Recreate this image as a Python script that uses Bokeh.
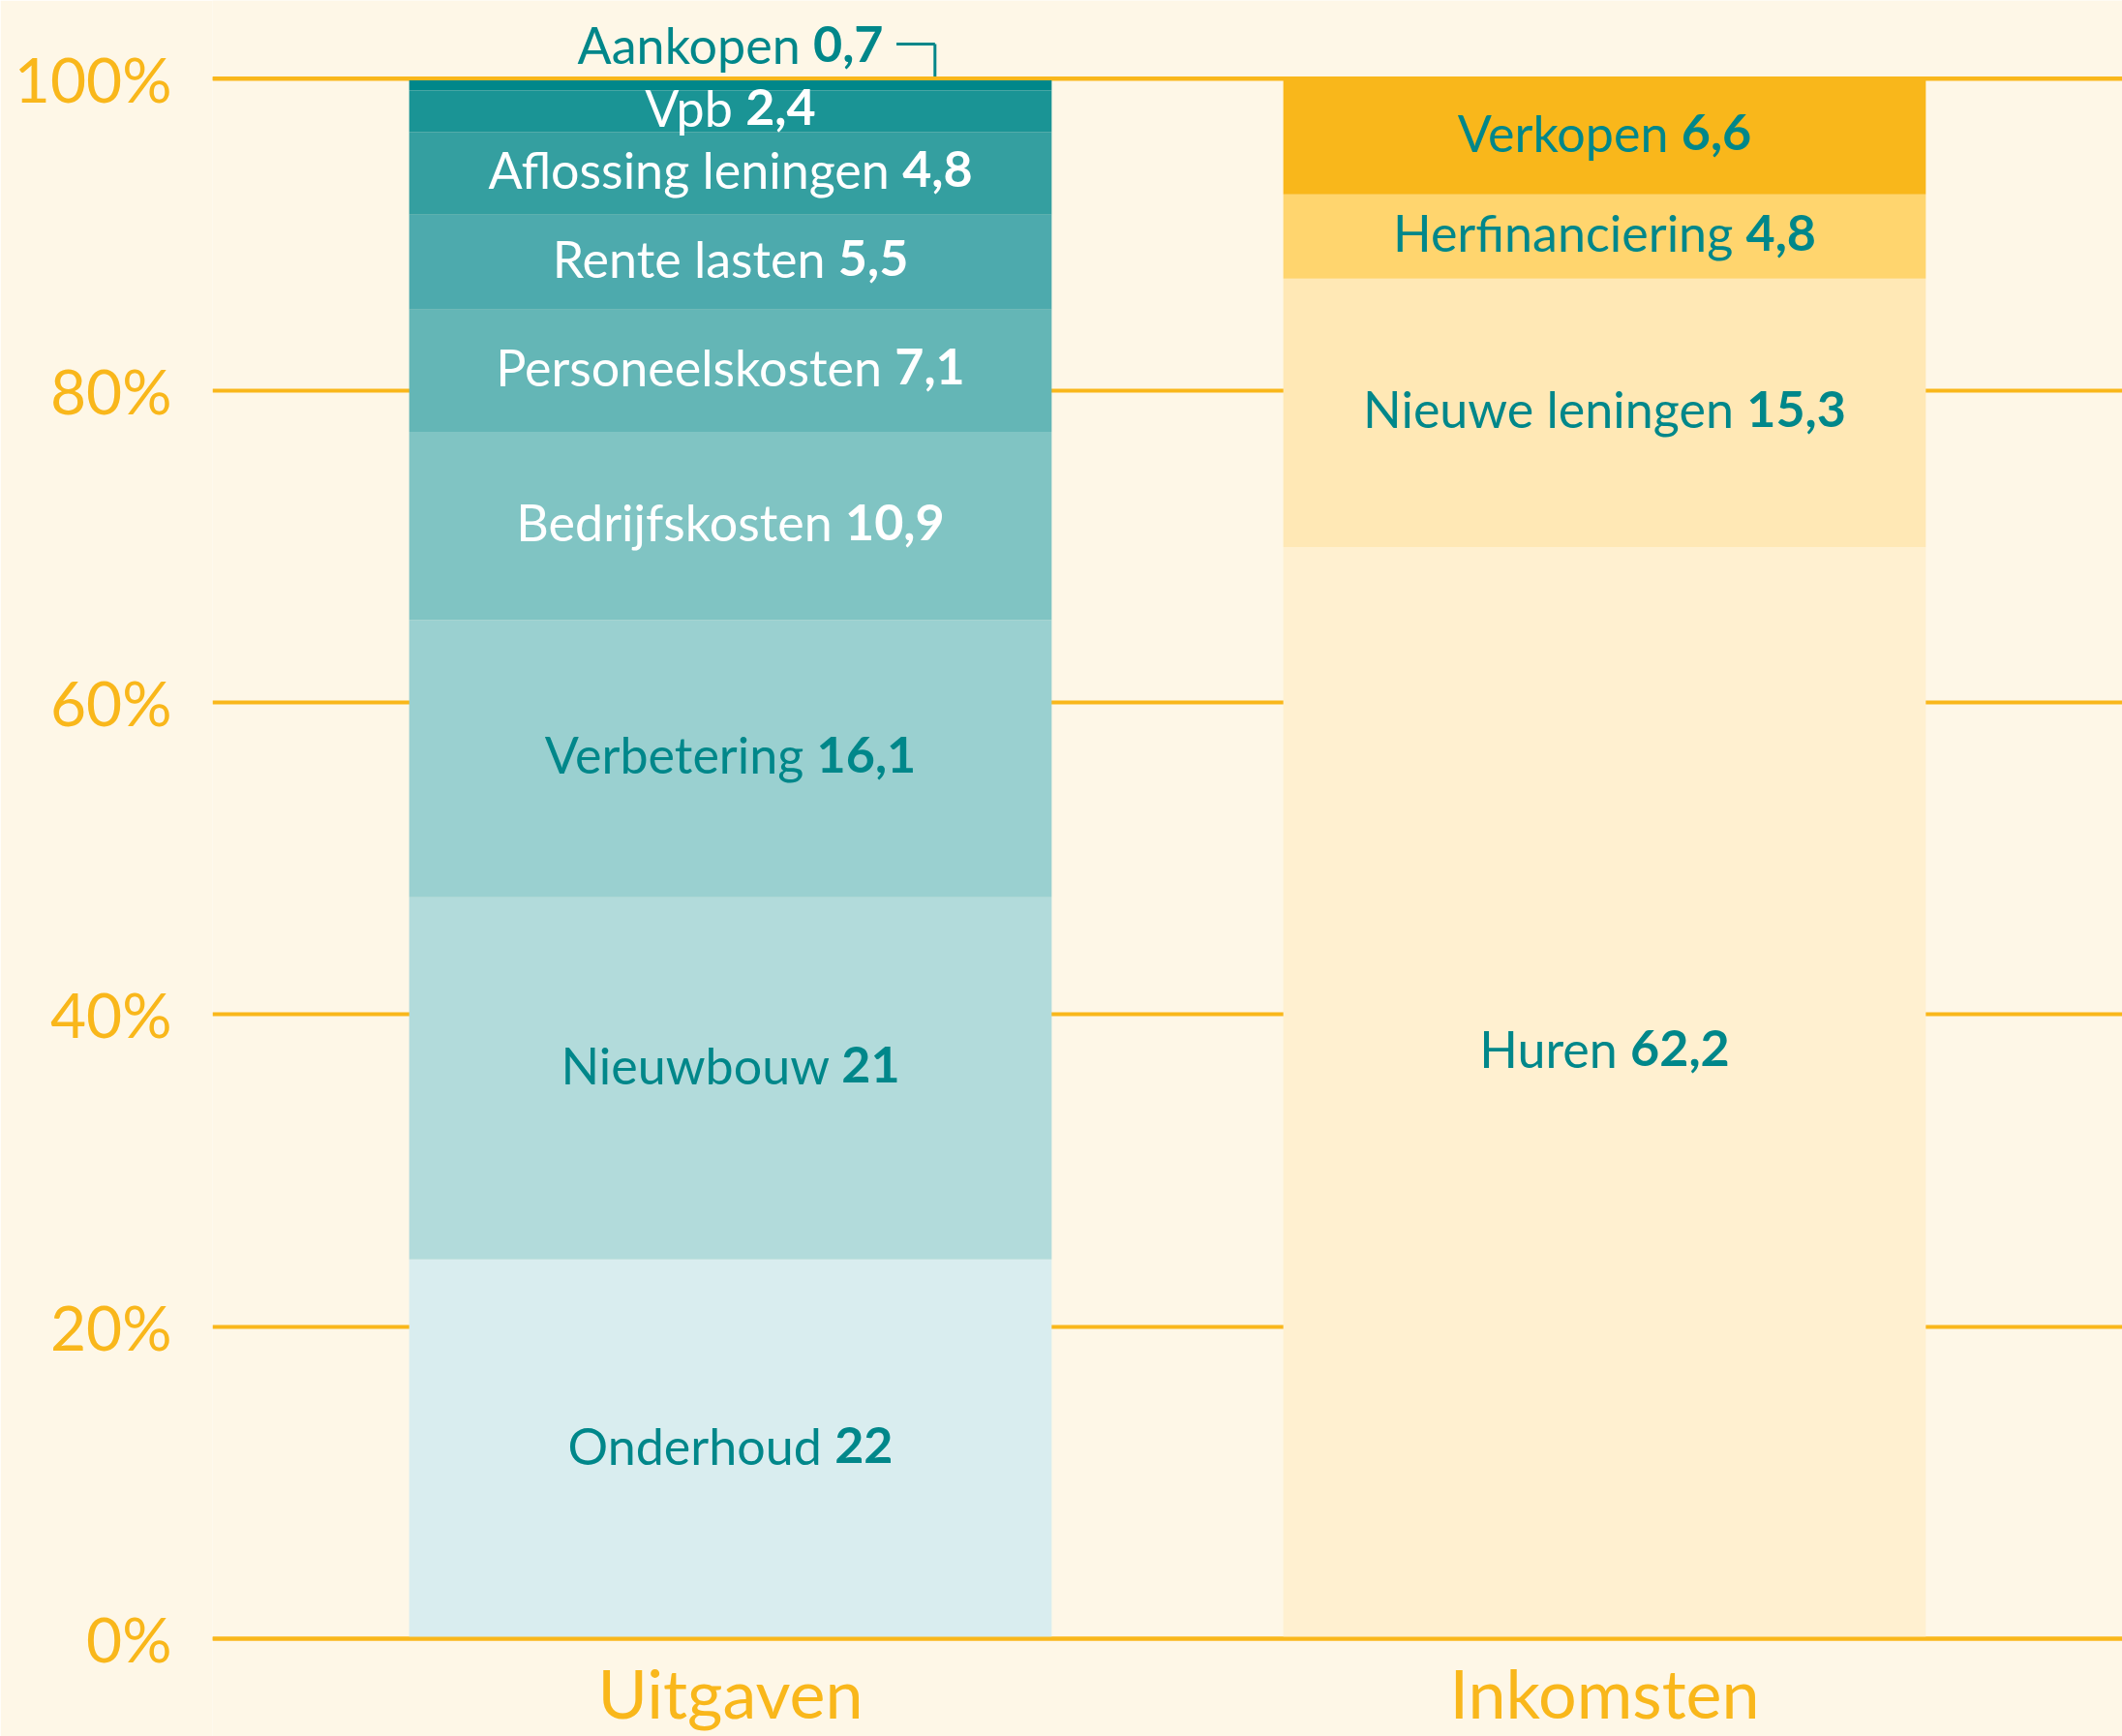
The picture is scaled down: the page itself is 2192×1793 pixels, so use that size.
import glob, os, subprocess
from bokeh.plotting import figure
from bokeh.models import FactorRange, Range1d, FixedTicker, ColumnDataSource, Span
from bokeh.transform import dodge
from bokeh.core.properties import value
from bokeh.embed import file_html
from bokeh.resources import INLINE

# ---------------- data ----------------
categories = ["Uitgaven", "Inkomsten"]

uitgaven_labels = ["Onderhoud", "Nieuwbouw", "Verbetering", "Bedrijfskosten",
                   "Personeelskosten", "Rente lasten", "Aflossing leningen", "Vpb", "Aankopen"]
uitgaven_values = [22, 21, 16.1, 10.9, 7.1, 5.5, 4.8, 2.4, 0.7]

inkomsten_labels = ["Huren", "Nieuwe leningen", "Herfinanciering", "Verkopen"]
inkomsten_values = [62.2, 15.3, 4.8, 6.6]

y_ticks = [0, 20, 40, 60, 80, 100]
y_tick_labels = ["0%", "20%", "40%", "60%", "80%", "100%"]

# ---------------- style ----------------
BG = "#FEF7E7"
GOLD = "#F9B71B"
TEAL = "#00878A"
WHITE = "#FFFFFF"
uit_colors = ["#D9EDEF", "#B2DBDB", "#9AD0D0", "#80C4C3", "#64B6B6",
              "#4DAAAD", "#349FA0", "#1A9495", "#00878A"]
uit_text_colors = [TEAL, TEAL, TEAL, WHITE, WHITE, WHITE, WHITE, WHITE, TEAL]
ink_colors = ["#FFF0D0", "#FFE8B5", "#FFD56E", "#F9B71B"]
ink_text_colors = [TEAL, TEAL, TEAL, TEAL]
FONT = "Lato"
AXIS_FONT = "Lato"
LABEL_PX = 52
YAXIS_PX = 64
XAXIS_PX = 70
BAR_W = 0.735
LABEL_DY = -4                     # general vertical nudge of segment labels (px)
LABEL_NUDGE = {"Huren": -42, "Nieuwbouw": -10}   # extra label nudges (px)


def find_font(bold):
    name = "Lato-Bold.ttf" if bold else "Lato-Regular.ttf"
    for root in ["/usr/share/fonts", "/usr/local/share/fonts", os.path.expanduser("~/.fonts"),
                 os.path.expanduser("~/.local/share/fonts")]:
        hits = glob.glob(os.path.join(root, "**", name), recursive=True)
        if hits:
            return hits[0]
    try:
        out = subprocess.run(["fc-match", "-f", "%{file}", "Lato:" + ("bold" if bold else "regular")],
                             capture_output=True, text=True).stdout.strip()
        if out and "Lato" in out:
            return out
    except Exception:
        pass
    return None


_fonts = {}
try:
    from PIL import ImageFont
    for b in (False, True):
        path = find_font(b)
        if path:
            _fonts[b] = ImageFont.truetype(path, LABEL_PX)
except Exception:
    _fonts = {}


def text_width(s, bold):
    f = _fonts.get(bold)
    if f is not None:
        try:
            return f.getlength(s)
        except Exception:
            pass
    return len(s) * LABEL_PX * (0.56 if bold else 0.52)


def fmt(v):
    return ("%g" % v).replace(".", ",")


# ---------------- figure ----------------
p = figure(width=2192, height=1793,
           x_range=FactorRange(factors=categories, range_padding=0.0925, range_padding_units="percent"),
           y_range=Range1d(-6.27, 105.0),
           output_backend="svg", toolbar_location=None,
           background_fill_color=BG, border_fill_color=BG, outline_line_color=None,
           min_border_left=219, min_border_right=0, min_border_top=0, min_border_bottom=0)

bars = dict(x=[], bottom=[], top=[], color=[])
names = dict(x=[], y=[], text=[], xo=[], yo=[], color=[])
vals = dict(x=[], y=[], text=[], xo=[], yo=[], color=[])
leader_cat = []
leader_y = []


def add_stack(cat, labels, values, colors, tcolors):
    total = sum(values)
    cum = 0.0
    for lab, v, c, tc in zip(labels, values, colors, tcolors):
        pct = v / total * 100.0
        b, t = cum, cum + pct
        cum = t
        bars["x"].append(cat)
        bars["bottom"].append(b)
        bars["top"].append(t)
        bars["color"].append(c)
        name = lab + " "
        val = fmt(v)
        wn = text_width(name, False)
        wv = text_width(val, True)
        W = wn + wv
        if pct < 1.5:
            y = 102.2
            yo = 0
            leader_cat.append(cat)
            leader_y.append(y)
        else:
            y = (b + t) / 2.0
            yo = LABEL_DY + LABEL_NUDGE.get(lab, 0)
        for d, txt, xo in ((names, name, -W / 2.0), (vals, val, -W / 2.0 + wn)):
            d["x"].append(cat); d["y"].append(y); d["text"].append(txt)
            d["xo"].append(xo); d["yo"].append(yo); d["color"].append(tc)


add_stack(categories[0], uitgaven_labels, uitgaven_values, uit_colors, uit_text_colors)
add_stack(categories[1], inkomsten_labels, inkomsten_values, ink_colors, ink_text_colors)

p.vbar(x="x", bottom="bottom", top="top", width=BAR_W, fill_color="color", line_color=None,
       source=ColumnDataSource(bars))

p.text(x="x", y="y", text="text", x_offset="xo", y_offset="yo", text_color="color",
       source=ColumnDataSource(names),
       text_align="left", text_baseline="middle", text_font=value(FONT),
       text_font_size=value("%dpx" % LABEL_PX), text_font_style="normal")
p.text(x="x", y="y", text="text", x_offset="xo", y_offset="yo", text_color="color",
       source=ColumnDataSource(vals),
       text_align="left", text_baseline="middle", text_font=value(FONT),
       text_font_size=value("%dpx" % LABEL_PX), text_font_style="bold")

# leader line for the small segment label
if leader_cat:
    lsrc = ColumnDataSource(dict(cat=leader_cat, y=leader_y, ytop=[100] * len(leader_y)))
    p.segment(x0=dodge("cat", 0.19, range=p.x_range), x1=dodge("cat", 0.234, range=p.x_range),
              y0="y", y1="y", line_color=TEAL, line_width=3, source=lsrc)
    p.segment(x0=dodge("cat", 0.234, range=p.x_range), x1=dodge("cat", 0.234, range=p.x_range),
              y0="y", y1="ytop", line_color=TEAL, line_width=3, source=lsrc)

# grid & axes
p.xgrid.grid_line_color = None
p.ygrid.ticker = FixedTicker(ticks=y_ticks)
p.ygrid.grid_line_color = GOLD
p.ygrid.grid_line_width = 4
for loc in (y_ticks[0], y_ticks[-1]):
    p.add_layout(Span(location=loc, dimension="width", line_color=GOLD, line_width=4))

p.yaxis.ticker = FixedTicker(ticks=y_ticks)
p.yaxis.major_label_overrides = {t: l for t, l in zip(y_ticks, y_tick_labels)}
p.yaxis.axis_line_color = None
p.yaxis.major_tick_line_color = None
p.yaxis.minor_tick_line_color = None
p.yaxis.major_label_text_font = AXIS_FONT
p.yaxis.major_label_text_font_size = "%dpx" % YAXIS_PX
p.yaxis.major_label_text_color = GOLD
p.yaxis.major_label_standoff = 36

p.xaxis.fixed_location = 0
p.xaxis.axis_line_color = None
p.xaxis.major_tick_line_color = None
p.xaxis.minor_tick_line_color = None
p.xaxis.major_label_text_font = AXIS_FONT
p.xaxis.major_label_text_font_size = "%dpx" % XAXIS_PX
p.xaxis.major_label_text_color = GOLD
p.xaxis.major_label_standoff = 8

html = file_html(p, INLINE)
html = html.replace("<body>", '<body style="background:%s">' % BG, 1)
open("out.html", "w").write(html)
